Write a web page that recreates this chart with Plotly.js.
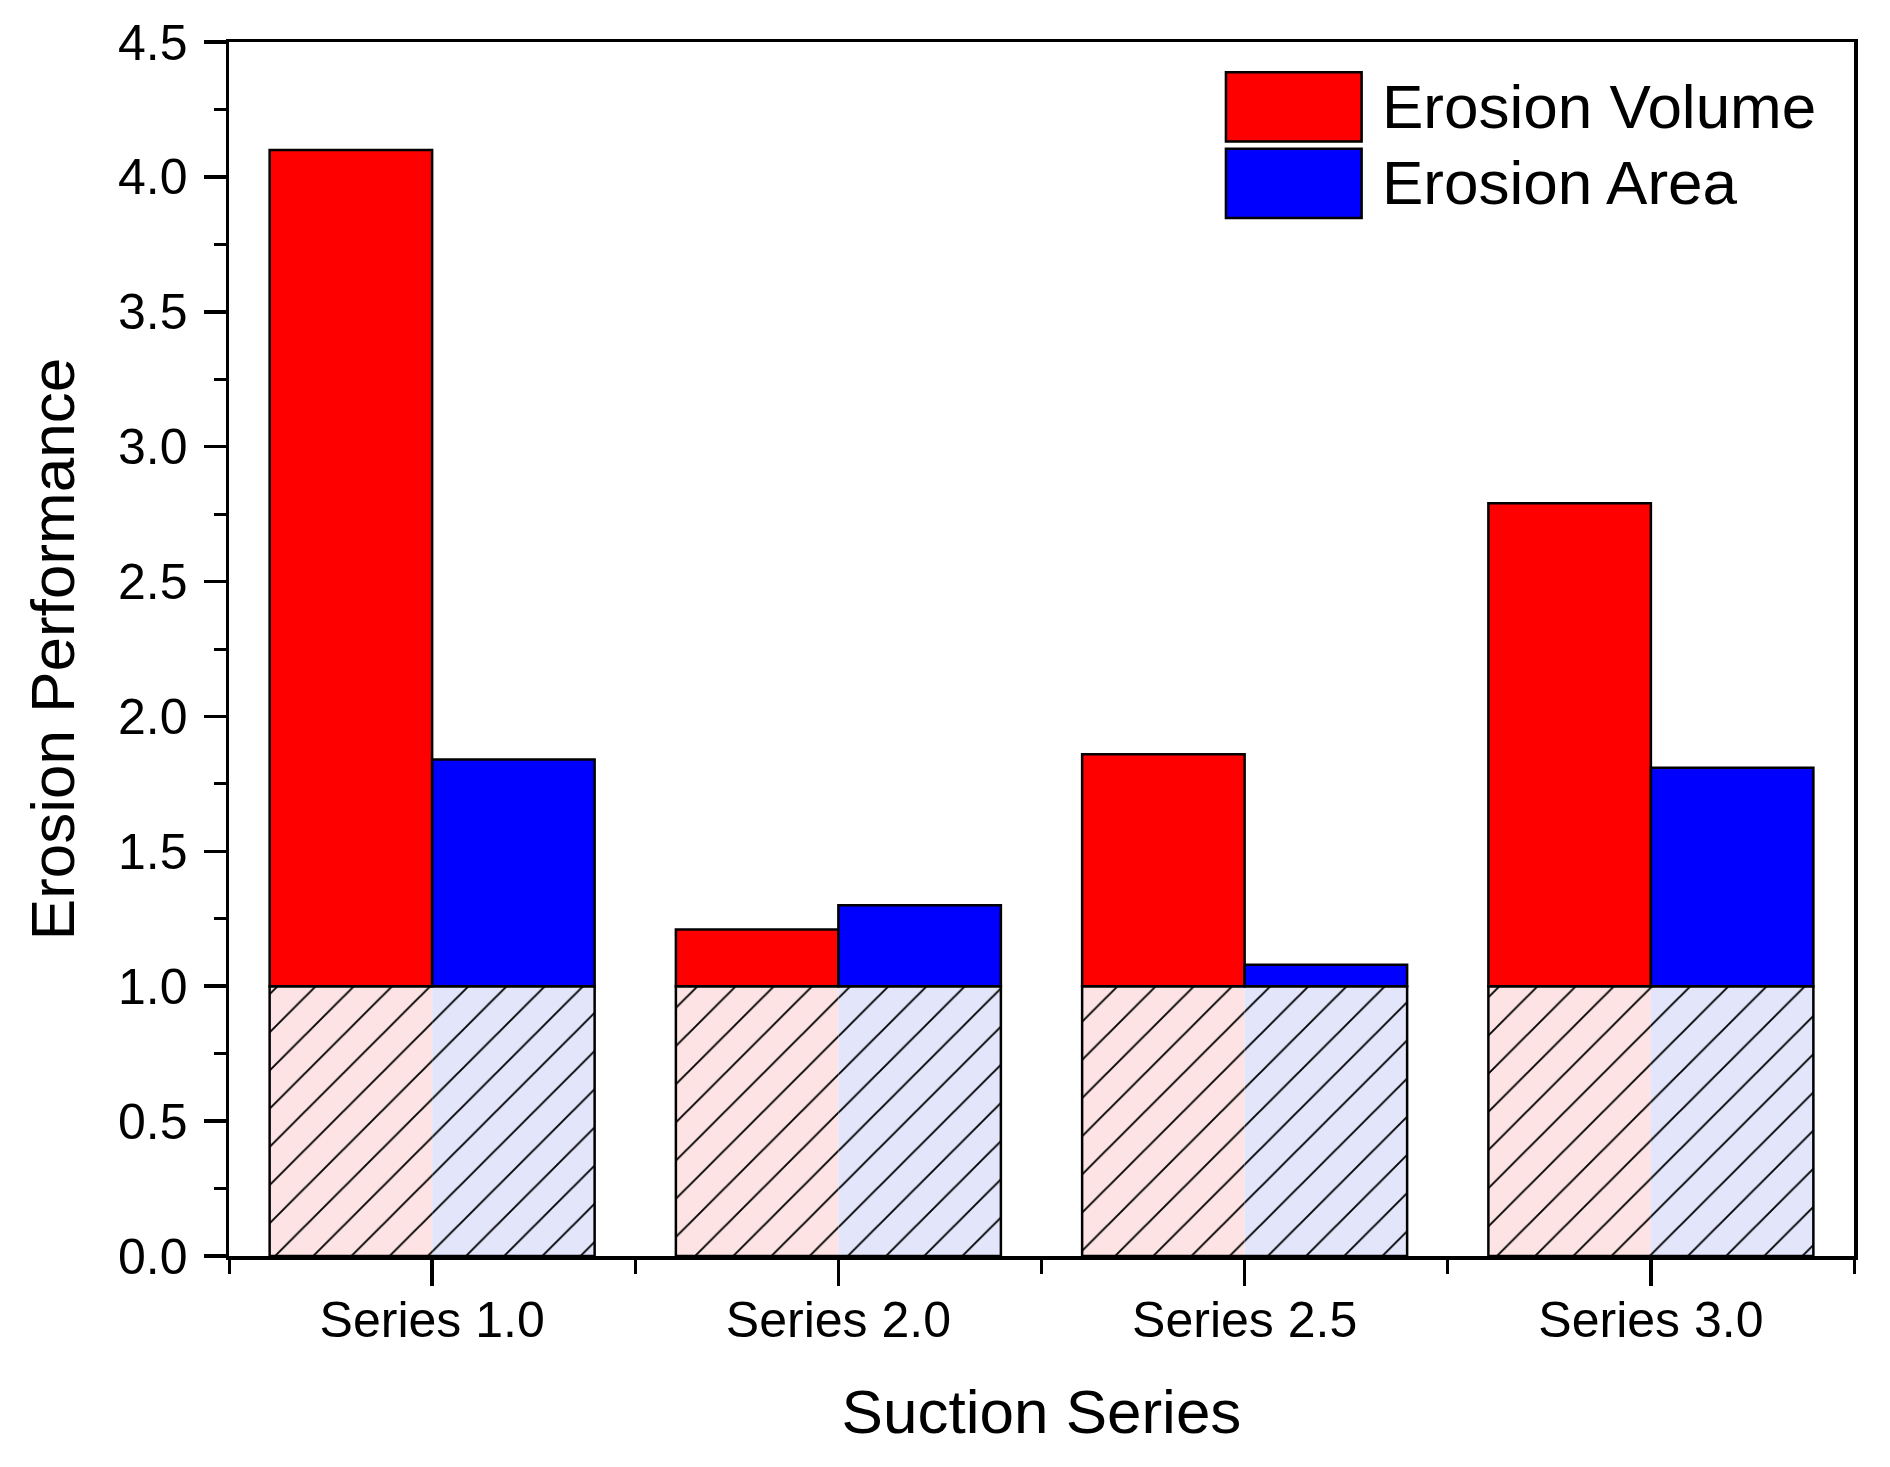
<!DOCTYPE html>
<html>
<head>
<meta charset="utf-8">
<script src="https://cdn.plot.ly/plotly-3.0.1.min.js"></script>
<style>
  html, body { margin: 0; padding: 0; background: #fff; }
  #chart { width: 1890px; height: 1467px; }
</style>
</head>
<body>
<div id="chart"></div>
<script>
// values
const categories = ['Series 1.0', 'Series 2.0', 'Series 2.5', 'Series 3.0'];
const erosionVolume = [4.10, 1.21, 1.86, 2.79];
const erosionArea = [1.84, 1.30, 1.08, 1.81];
const reference = [1, 1, 1, 1];   // hatched part below 1.0
const seriesNames = ['Erosion Volume', 'Erosion Area'];

const xIdx = categories.map((_, i) => i);
const FONT = 'Arial, "Liberation Sans", sans-serif';

const hatch = bg => ({shape: '/', fgcolor: '#000', bgcolor: bg, size: 27, solidity: 0.07});

const volBase = {
  type: 'bar', x: xIdx, y: reference, offset: -0.4, width: 0.4,
  marker: {color: '#fde3e3', pattern: hatch('#fde3e3'), line: {width: 0}}
};
const areaBase = {
  type: 'bar', x: xIdx, y: reference, offset: 0, width: 0.4,
  marker: {color: '#e3e5fb', pattern: hatch('#e3e5fb'), line: {width: 0}}
};
// single outline around both hatched halves
const baseOutline = {
  type: 'bar', x: xIdx, y: reference, offset: -0.4, width: 0.8,
  marker: {color: 'rgba(0,0,0,0)', line: {color: '#000', width: 2.5}}
};
const volTop = {
  type: 'bar', name: seriesNames[0], x: xIdx,
  y: erosionVolume.map((v, i) => v - reference[i]), base: reference,
  offset: -0.4, width: 0.4,
  marker: {color: '#ff0000', line: {color: '#000', width: 2.5}}
};
const areaTop = {
  type: 'bar', name: seriesNames[1], x: xIdx,
  y: erosionArea.map((v, i) => v - reference[i]), base: reference,
  offset: 0, width: 0.4,
  marker: {color: '#0000ff', line: {color: '#000', width: 2.5}}
};

// legend drawn as big swatches like the original
const legendColors = ['#ff0000', '#0000ff'];
const legendShapes = seriesNames.map((n, i) => ({
  type: 'rect', xref: 'paper', yref: 'paper',
  x0: 0.6135, x1: 0.697, y0: 0.918 - i * 0.063, y1: 0.975 - i * 0.063,
  fillcolor: legendColors[i], line: {color: '#000', width: 2.5}
}));
const legendText = seriesNames.map((n, i) => ({
  xref: 'paper', yref: 'paper', x: 0.708, y: 0.947 - i * 0.063,
  xanchor: 'left', yanchor: 'middle', showarrow: false,
  text: n, font: {family: FONT, size: 62, color: '#000'}
}));

const layout = {
  width: 1890, height: 1467,
  margin: {l: 229, r: 36, t: 42, b: 211},
  paper_bgcolor: '#fff', plot_bgcolor: '#fff',
  barmode: 'overlay', showlegend: false,
  font: {family: FONT, color: '#000'},
  xaxis: {
    range: [-0.5, 3.5], tickmode: 'array', tickvals: xIdx, ticktext: categories,
    showgrid: false, zeroline: false,
    showline: true, mirror: true, linecolor: '#000', linewidth: 3.5,
    ticks: 'outside', ticklen: 26, tickwidth: 3.5, tickcolor: '#000',
    ticklabelstandoff: -9,
    tickfont: {family: FONT, size: 50},
    minor: {tick0: 0.5, dtick: 1, ticks: 'outside', ticklen: 14, tickwidth: 3, tickcolor: '#000'},
    title: {text: 'Suction Series', font: {family: FONT, size: 62}, standoff: 44}
  },
  yaxis: {
    range: [0, 4.5], dtick: 0.5, tick0: 0, tickformat: '.1f',
    showgrid: false, zeroline: false,
    showline: true, mirror: true, linecolor: '#000', linewidth: 3.5,
    ticks: 'outside', ticklen: 22, tickwidth: 3.5, tickcolor: '#000',
    ticklabelstandoff: 6,
    tickfont: {family: FONT, size: 50},
    minor: {dtick: 0.25, ticks: 'outside', ticklen: 12, tickwidth: 3, tickcolor: '#000'},
    title: {text: 'Erosion Performance', font: {family: FONT, size: 62}, standoff: 24}
  },
  shapes: legendShapes,
  annotations: legendText
};

Plotly.newPlot('chart', [volBase, areaBase, baseOutline, volTop, areaTop], layout, {staticPlot: true});
</script>
</body>
</html>
